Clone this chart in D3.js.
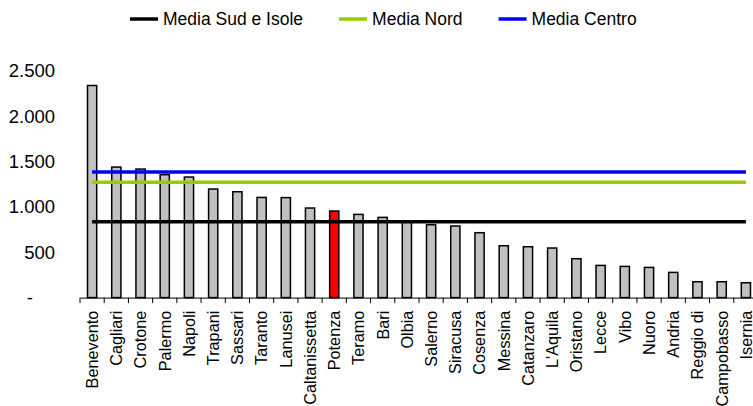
<!DOCTYPE html>
<html>
<head>
<meta charset="utf-8">
<script src="https://cdn.jsdelivr.net/npm/d3@7"></script>
<style>
  html, body { margin: 0; padding: 0; background: #fff; }
  svg { display: block; font-family: "Liberation Sans", Arial, sans-serif; }
</style>
</head>
<body>
<svg id="chart" width="753" height="406"></svg>
<script>
// Tribunali ordinati per valore
const categories = [
  "Benevento", "Cagliari", "Crotone", "Palermo", "Napoli", "Trapani", "Sassari",
  "Taranto", "Lanusei", "Caltanissetta", "Potenza", "Teramo", "Bari", "Olbia",
  "Salerno", "Siracusa", "Cosenza", "Messina", "Catanzaro", "L'Aquila", "Oristano",
  "Lecce", "Vibo", "Nuoro", "Andria", "Reggio di", "Campobasso", "Isernia"
];
const values = [
  2340, 1440, 1418, 1356, 1330, 1198, 1168,
  1105, 1103, 988, 955, 918, 885, 840,
  804, 790, 716, 572, 561, 547, 429,
  355, 344, 333, 278, 175, 175, 164
];
const highlighted = ["Potenza"];

// Medie di riferimento (linee orizzontali)
const averageNames = ["Media Sud e Isole", "Media Nord", "Media Centro"];
const averageValues = [837, 1272, 1385];
const averageColors = ["#000000", "#99cc00", "#0000ff"];

const yTicks = [0, 500, 1000, 1500, 2000, 2500];
const yMax = 2500;

const svg = d3.select("#chart");
const plotLeft = 80, plotRight = 758, plotTop = 71, baseline = 297.6;

const x = d3.scaleBand()
  .domain(categories)
  .range([plotLeft, plotRight])
  .paddingInner(0.62)
  .paddingOuter(0.31);

const y = d3.scaleLinear().domain([0, yMax]).range([baseline, plotTop]);

const fmt = v => v === 0 ? "-" : d3.format(",")(v).replace(/,/g, ".");

// Asse verticale: solo etichette
const yAxis = svg.append("g")
  .attr("transform", "translate(55,0)")
  .call(d3.axisLeft(y).tickValues(yTicks).tickSize(0).tickPadding(0).tickFormat(fmt));
yAxis.select(".domain").remove();
yAxis.selectAll("text")
  .attr("font-size", "18.5px")
  .attr("font-family", "Liberation Sans, Arial, sans-serif")
  .attr("fill", "#000")
  .attr("dx", d => d === 0 ? -22 : 0);

// Barre
svg.append("g").selectAll("rect")
  .data(categories)
  .join("rect")
  .attr("x", d => x(d))
  .attr("y", (d, i) => y(values[i]))
  .attr("width", x.bandwidth())
  .attr("height", (d, i) => baseline - y(values[i]))
  .attr("fill", d => highlighted.includes(d) ? "#ff0000" : "#c0c0c0")
  .attr("stroke", "#000")
  .attr("stroke-width", 1.5);

// Asse orizzontale con tacche tra le categorie
const xAxis = svg.append("g")
  .attr("transform", `translate(0,${baseline})`)
  .call(d3.axisBottom(x).tickSize(0).tickPadding(0));
xAxis.select(".domain").attr("stroke", "#000").attr("stroke-width", 1);
xAxis.selectAll("text")
  .attr("font-size", "16.3px")
  .attr("font-family", "Liberation Sans, Arial, sans-serif")
  .attr("fill", "#000")
  .attr("text-anchor", "end")
  .attr("transform", "rotate(-90)")
  .attr("x", -13)
  .attr("y", 0)
  .attr("dy", "0.36em");

const step = x.step();
const boundaries = categories.map(c => x(c) + x.bandwidth() / 2 - step / 2)
  .concat([x(categories[categories.length - 1]) + x.bandwidth() / 2 + step / 2]);
svg.append("g").selectAll("line")
  .data(boundaries)
  .join("line")
  .attr("x1", d => d).attr("x2", d => d)
  .attr("y1", baseline).attr("y2", baseline + 5.5)
  .attr("stroke", "#000")
  .attr("stroke-width", 1);

// Linee delle medie, dal primo all'ultimo centro di categoria
const xStart = x(categories[0]) + x.bandwidth() / 2;
const xEnd = x(categories[categories.length - 1]) + x.bandwidth() / 2;
svg.append("g").selectAll("line")
  .data(averageValues)
  .join("line")
  .attr("x1", xStart).attr("x2", xEnd)
  .attr("y1", d => y(d)).attr("y2", d => y(d))
  .attr("stroke", (d, i) => averageColors[i])
  .attr("stroke-width", 3.5);

// Legenda
const legend = svg.append("g").attr("transform", "translate(130,19)");
let lx = 0;
averageNames.forEach((name, i) => {
  const g = legend.append("g").attr("transform", `translate(${lx},0)`);
  g.append("line")
    .attr("x1", 0).attr("x2", 28)
    .attr("y1", 0).attr("y2", 0)
    .attr("stroke", averageColors[i])
    .attr("stroke-width", 3.5);
  const t = g.append("text")
    .attr("x", 33)
    .attr("y", 0)
    .attr("dy", "0.35em")
    .attr("font-size", "17.5px")
    .attr("fill", "#000")
    .text(name);
  lx += 33 + t.node().getComputedTextLength() + 36;
});
</script>
</body>
</html>
